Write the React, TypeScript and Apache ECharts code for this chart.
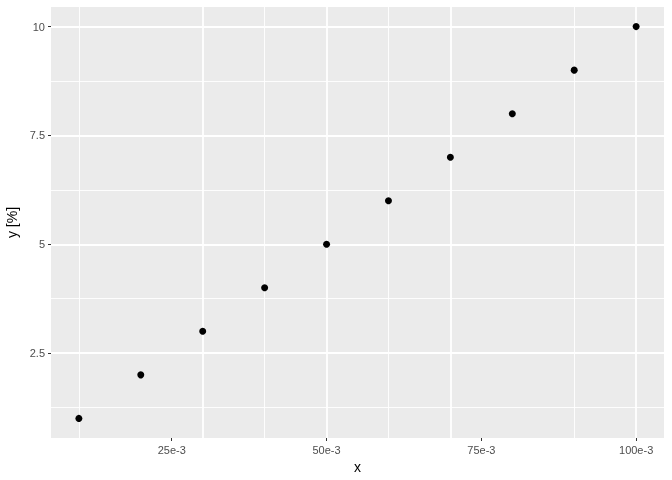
import React, { useEffect, useRef } from "react";
import * as echarts from "echarts";

const xValues = [0.01, 0.02, 0.03, 0.04, 0.05, 0.06, 0.07, 0.08, 0.09, 0.1];
const yValues = [1, 2, 3, 4, 5, 6, 7, 8, 9, 10];
const xMajor = [0.025, 0.05, 0.075, 0.1];
const xTickLabels = ["25e-3", "50e-3", "75e-3", "100e-3"];
const xMinor = [0.0125, 0.0375, 0.0625, 0.0875];
const yMajor = [2.5, 5, 7.5, 10];
const yTickLabels = ["2.5", "5", "7.5", "10"];
const yMinor = [1.25, 3.75, 6.25, 8.75];

export default function App() {
  const ref = useRef<HTMLDivElement>(null);
  useEffect(() => {
    if (!ref.current) return;
    const chart = echarts.init(ref.current, undefined, { renderer: "svg" });
    const xr = Math.max(...xValues) - Math.min(...xValues);
    const yr = Math.max(...yValues) - Math.min(...yValues);
    const xMin = Math.min(...xValues) - 0.05 * xr;
    const xMax = Math.max(...xValues) + 0.05 * xr;
    const yMin = Math.min(...yValues) - 0.05 * yr;
    const yMax = Math.max(...yValues) + 0.05 * yr;
    const font = "Liberation Sans, Arial, sans-serif";
    const gridLines: any[] = [];
    xMinor.forEach((v) => gridLines.push({ xAxis: v, lineStyle: { color: "#FFFFFF", width: 0.9, type: "solid" } }));
    yMinor.forEach((v) => gridLines.push({ yAxis: v, lineStyle: { color: "#FFFFFF", width: 0.9, type: "solid" } }));
    xMajor.forEach((v) => gridLines.push({ xAxis: v, lineStyle: { color: "#FFFFFF", width: 1.8, type: "solid" } }));
    yMajor.forEach((v) => gridLines.push({ yAxis: v, lineStyle: { color: "#FFFFFF", width: 1.8, type: "solid" } }));
    const xLabelOf = (v: number) => {
      const i = xMajor.findIndex((m) => Math.abs(m - v) < 1e-9);
      return i >= 0 ? xTickLabels[i] : "";
    };
    const yLabelOf = (v: number) => {
      const i = yMajor.findIndex((m) => Math.abs(m - v) < 1e-9);
      return i >= 0 ? yTickLabels[i] : "";
    };
    chart.setOption({
      animation: false,
      grid: {
        left: 51,
        right: 8,
        top: 7,
        bottom: 42,
        show: true,
        backgroundColor: "#EBEBEB",
        borderWidth: 0,
        containLabel: false,
        outerBoundsMode: "none",
      },
      xAxis: {
        type: "value",
        min: xMin,
        max: xMax,
        name: "x",
        nameLocation: "middle",
        nameGap: 18,
        nameTextStyle: { color: "#000000", fontSize: 14, fontFamily: font },
        axisLine: { show: false },
        splitLine: { show: false },
        axisTick: {
          show: true,
          length: 3,
          lineStyle: { color: "#333333", width: 1 },
          customValues: xMajor,
        },
        axisLabel: {
          color: "#4D4D4D",
          fontSize: 11,
          fontFamily: font,
          margin: 6,
          customValues: xMajor,
          formatter: (v: number) => xLabelOf(v),
        },
      },
      yAxis: {
        type: "value",
        min: yMin,
        max: yMax,
        name: "y [%]",
        nameLocation: "middle",
        nameGap: 31,
        nameRotate: 90,
        nameTextStyle: { color: "#000000", fontSize: 14, fontFamily: font },
        axisLine: { show: false },
        splitLine: { show: false },
        axisTick: {
          show: true,
          length: 3,
          lineStyle: { color: "#333333", width: 1 },
          customValues: yMajor,
        },
        axisLabel: {
          color: "#4D4D4D",
          fontSize: 11,
          fontFamily: font,
          margin: 6,
          customValues: yMajor,
          formatter: (v: number) => yLabelOf(v),
        },
      },
      series: [
        {
          type: "line",
          data: [],
          z: 1,
          silent: true,
          markLine: {
            silent: true,
            symbol: ["none", "none"],
            label: { show: false },
            emphasis: { disabled: true },
            animation: false,
            data: gridLines,
          },
        },
        {
          type: "scatter",
          z: 5,
          symbol: "circle",
          symbolSize: 7,
          itemStyle: { color: "#000000", opacity: 1 },
          data: xValues.map((x, i) => [x, yValues[i]]),
        },
      ],
    });
    return () => chart.dispose();
  }, []);
  return (
    <div
      ref={ref}
      style={{ position: "fixed", left: 0, top: 0, width: 672, height: 480 }}
    />
  );
}
